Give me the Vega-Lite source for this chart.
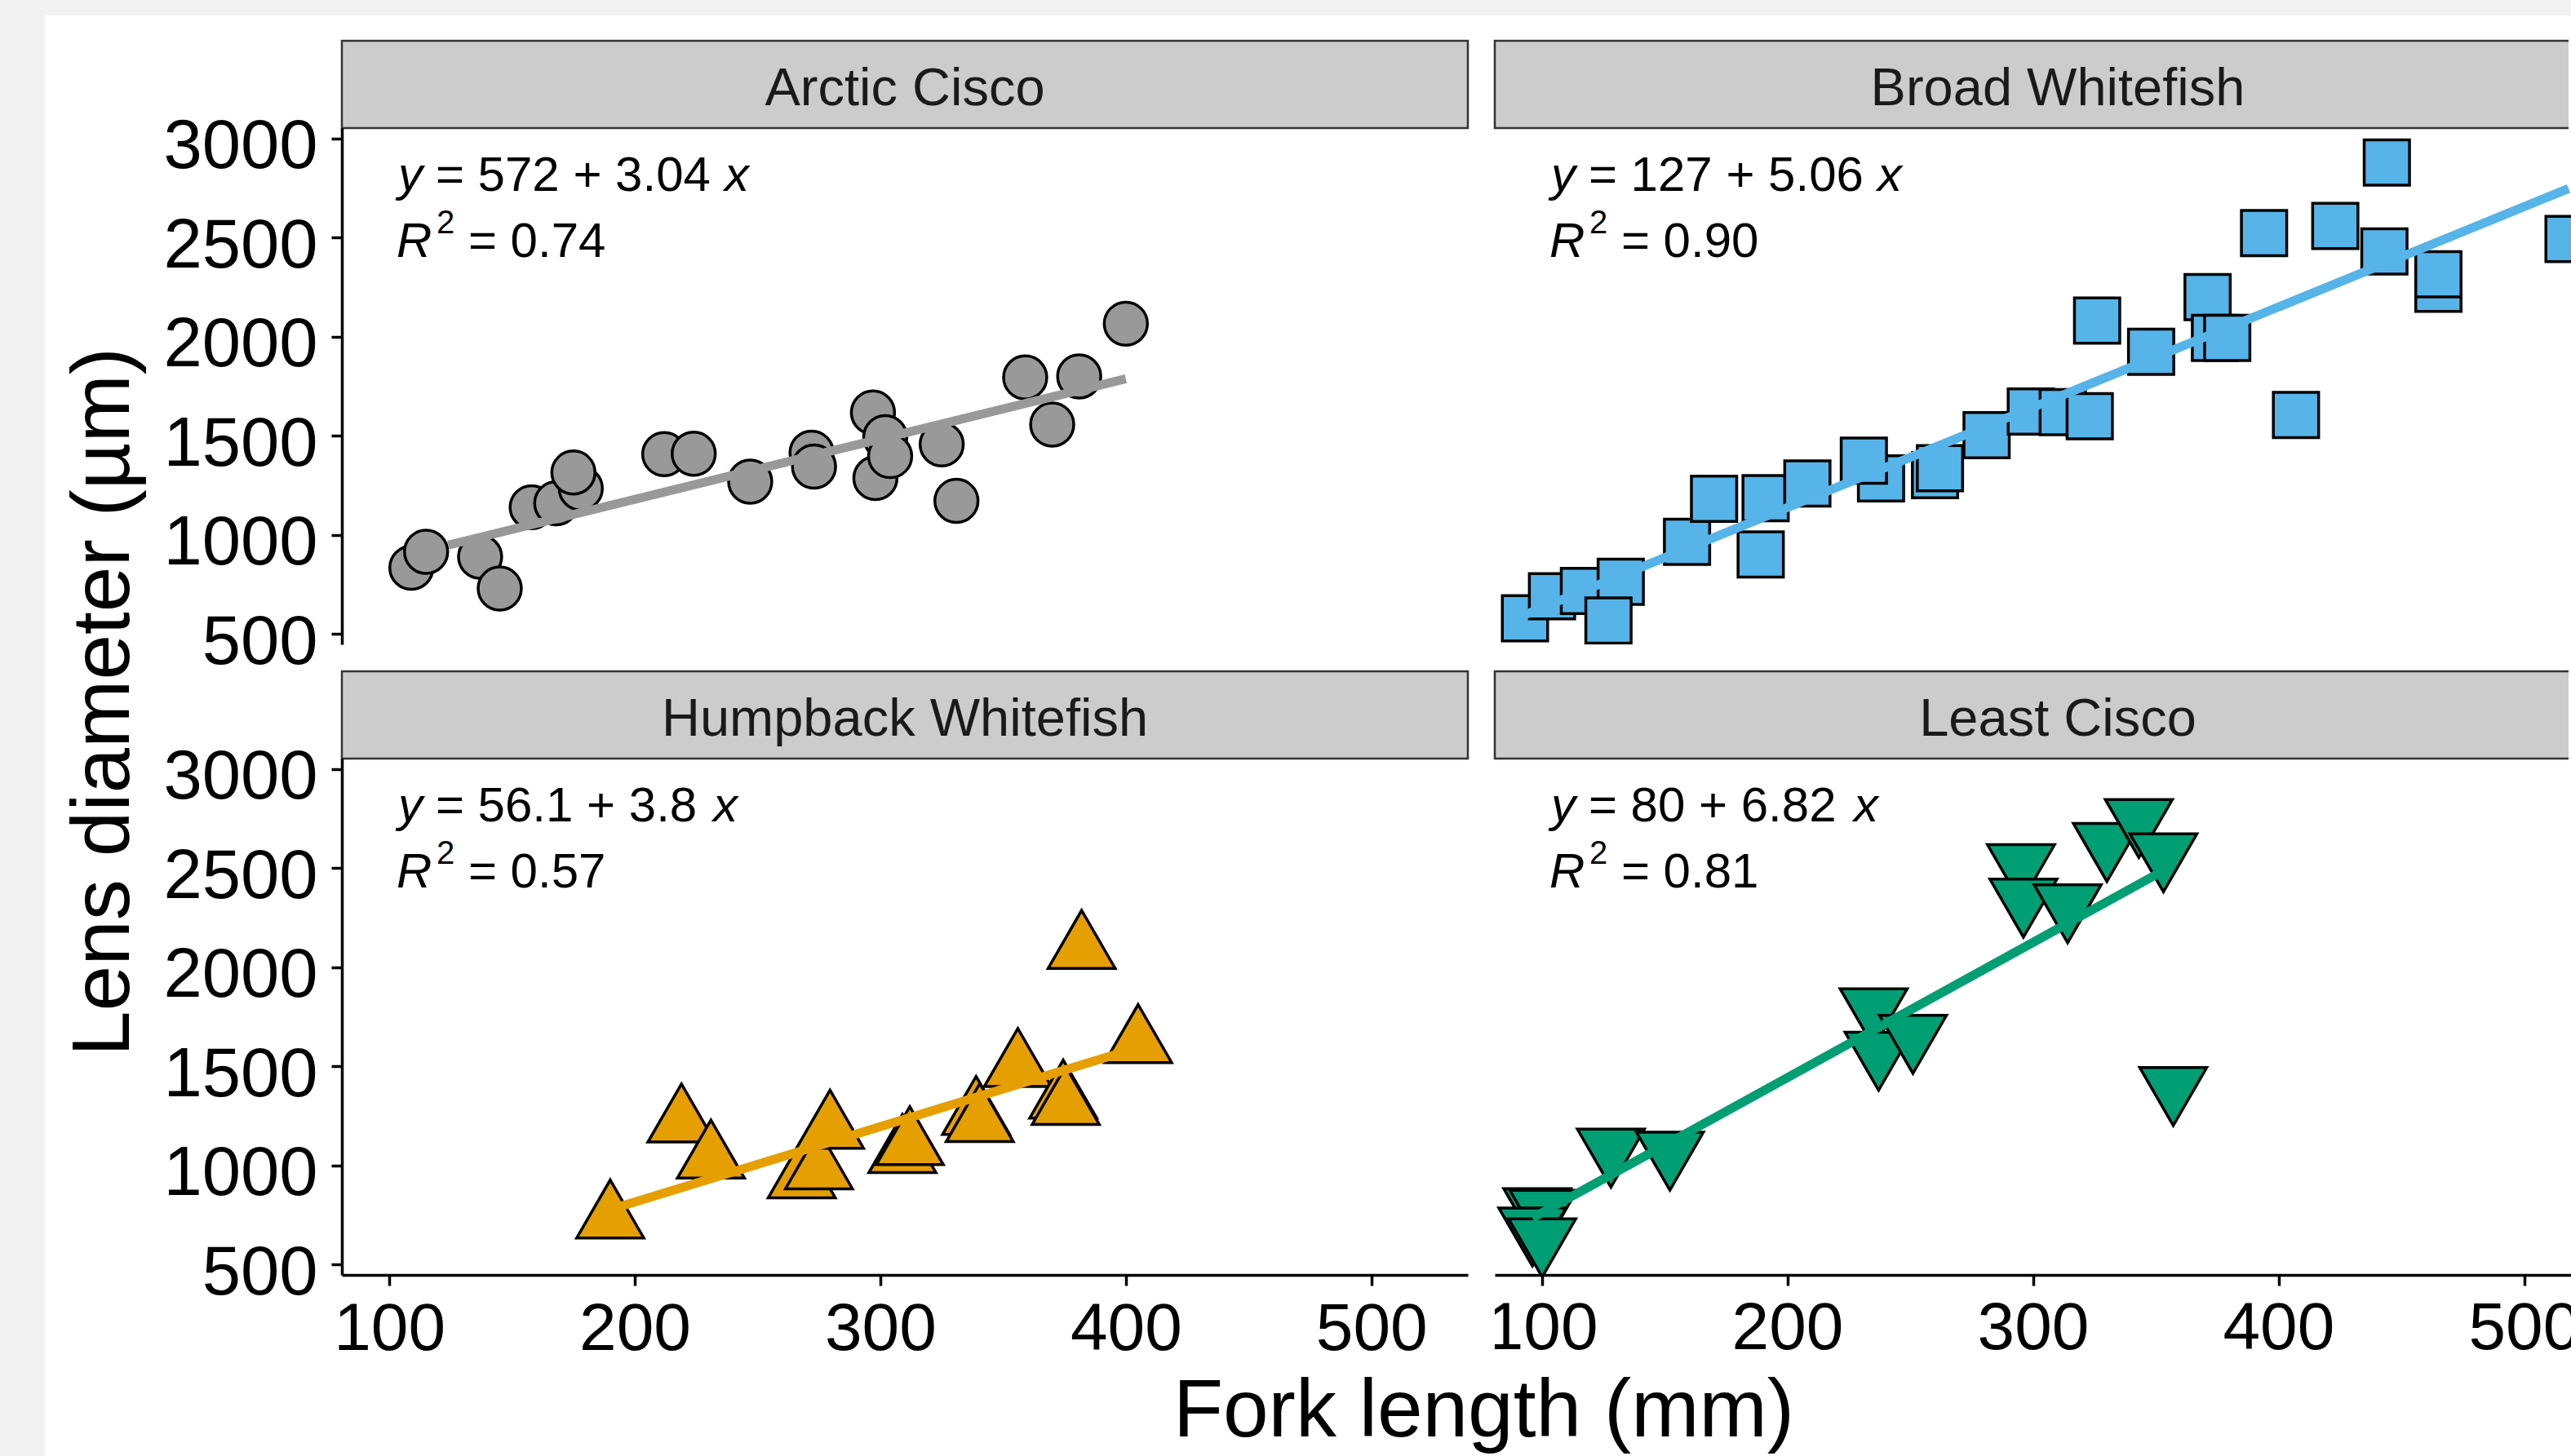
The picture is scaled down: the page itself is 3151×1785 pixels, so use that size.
{
"$schema":"https://vega.github.io/schema/vega-lite/v6.json",
"background":"white",
"padding":0,
"autosize":{"type":"pad"},
"columns":5,
"spacing":0,
"bounds":"flush",
"align":"each",
"config":{"view":{"stroke":null},"font":"Liberation Sans","text":{"font":"Liberation Sans"},
"axis":{"labelFont":"Liberation Sans","titleFont":"Liberation Sans","grid":false,"labelColor":"black","titleColor":"black","domainColor":"black","tickColor":"black","domainWidth":3.5,"tickWidth":3.5,"tickSize":13,"labelFontSize":82,"labelLimit":1000,"titleLimit":3000,"titleFontSize":100,"titleFontWeight":"normal"},
"axisY":{"labelFontSize":85},
"axisX":{"labelFontSize":82}},
"datasets":{
"pts":[
{"species":"Arctic Cisco","fl":109,"ld":835},{"species":"Arctic Cisco","fl":115,"ld":915},{"species":"Arctic Cisco","fl":137,"ld":890},{"species":"Arctic Cisco","fl":145,"ld":730},{"species":"Arctic Cisco","fl":158,"ld":1140},{"species":"Arctic Cisco","fl":168,"ld":1160},{"species":"Arctic Cisco","fl":178,"ld":1235},{"species":"Arctic Cisco","fl":175,"ld":1315},{"species":"Arctic Cisco","fl":212,"ld":1408},{"species":"Arctic Cisco","fl":224,"ld":1410},{"species":"Arctic Cisco","fl":247,"ld":1269},{"species":"Arctic Cisco","fl":272,"ld":1415},{"species":"Arctic Cisco","fl":273,"ld":1345},{"species":"Arctic Cisco","fl":297,"ld":1618},{"species":"Arctic Cisco","fl":298,"ld":1287},{"species":"Arctic Cisco","fl":302,"ld":1493},{"species":"Arctic Cisco","fl":304,"ld":1398},{"species":"Arctic Cisco","fl":325,"ld":1457},{"species":"Arctic Cisco","fl":331,"ld":1172},{"species":"Arctic Cisco","fl":359,"ld":1795},{"species":"Arctic Cisco","fl":381,"ld":1800},{"species":"Arctic Cisco","fl":370,"ld":1557},{"species":"Arctic Cisco","fl":400,"ld":2066},
{"species":"Broad Whitefish","fl":93,"ld":580},{"species":"Broad Whitefish","fl":104,"ld":691},{"species":"Broad Whitefish","fl":117,"ld":718},{"species":"Broad Whitefish","fl":132,"ld":764},{"species":"Broad Whitefish","fl":127,"ld":568},{"species":"Broad Whitefish","fl":159,"ld":966},{"species":"Broad Whitefish","fl":170,"ld":1183},{"species":"Broad Whitefish","fl":191,"ld":1186},{"species":"Broad Whitefish","fl":189,"ld":902},{"species":"Broad Whitefish","fl":208,"ld":1260},{"species":"Broad Whitefish","fl":238,"ld":1285},{"species":"Broad Whitefish","fl":231,"ld":1375},{"species":"Broad Whitefish","fl":260,"ld":1302},{"species":"Broad Whitefish","fl":262,"ld":1337},{"species":"Broad Whitefish","fl":281,"ld":1504},{"species":"Broad Whitefish","fl":299,"ld":1623},{"species":"Broad Whitefish","fl":312,"ld":1620},{"species":"Broad Whitefish","fl":323,"ld":1599},{"species":"Broad Whitefish","fl":326,"ld":2082},{"species":"Broad Whitefish","fl":348,"ld":1924},{"species":"Broad Whitefish","fl":371,"ld":2200},{"species":"Broad Whitefish","fl":374,"ld":1994},{"species":"Broad Whitefish","fl":379,"ld":1994},{"species":"Broad Whitefish","fl":394,"ld":2523},{"species":"Broad Whitefish","fl":407,"ld":1605},{"species":"Broad Whitefish","fl":423,"ld":2559},{"species":"Broad Whitefish","fl":444,"ld":2879},{"species":"Broad Whitefish","fl":443,"ld":2431},{"species":"Broad Whitefish","fl":465,"ld":2242},{"species":"Broad Whitefish","fl":465,"ld":2315},{"species":"Broad Whitefish","fl":518,"ld":2493},
{"species":"Humpback Whitefish","fl":190,"ld":732},{"species":"Humpback Whitefish","fl":219,"ld":1216},{"species":"Humpback Whitefish","fl":231,"ld":1034},{"species":"Humpback Whitefish","fl":268,"ld":935},{"species":"Humpback Whitefish","fl":275,"ld":980},{"species":"Humpback Whitefish","fl":279.5,"ld":1185},{"species":"Humpback Whitefish","fl":309,"ld":1062},{"species":"Humpback Whitefish","fl":312,"ld":1102},{"species":"Humpback Whitefish","fl":339,"ld":1254},{"species":"Humpback Whitefish","fl":340.5,"ld":1218},{"species":"Humpback Whitefish","fl":356,"ld":1496},{"species":"Humpback Whitefish","fl":374.5,"ld":1337},{"species":"Humpback Whitefish","fl":375.5,"ld":1305},{"species":"Humpback Whitefish","fl":382,"ld":2092},{"species":"Humpback Whitefish","fl":405,"ld":1617},
{"species":"Least Cisco","fl":98,"ld":786},{"species":"Least Cisco","fl":100.5,"ld":777},{"species":"Least Cisco","fl":96,"ld":688},{"species":"Least Cisco","fl":100,"ld":633},{"species":"Least Cisco","fl":128,"ld":1086},{"species":"Least Cisco","fl":152,"ld":1071},{"species":"Least Cisco","fl":235,"ld":1794},{"species":"Least Cisco","fl":237,"ld":1575},{"species":"Least Cisco","fl":251,"ld":1660},{"species":"Least Cisco","fl":295,"ld":2521},{"species":"Least Cisco","fl":296,"ld":2347},{"species":"Least Cisco","fl":314,"ld":2319},{"species":"Least Cisco","fl":330,"ld":2628},{"species":"Least Cisco","fl":343,"ld":2749},{"species":"Least Cisco","fl":353,"ld":2576},{"species":"Least Cisco","fl":357,"ld":1397}
],
"lines":[
{"species":"Arctic Cisco","fl":124,"ld":949},{"species":"Arctic Cisco","fl":400,"ld":1788},
{"species":"Broad Whitefish","fl":93,"ld":598},{"species":"Broad Whitefish","fl":518,"ld":2748},
{"species":"Humpback Whitefish","fl":190,"ld":778},{"species":"Humpback Whitefish","fl":405,"ld":1595},
{"species":"Least Cisco","fl":96,"ld":735},{"species":"Least Cisco","fl":352,"ld":2481}
],
"eq":[
{"species":"Arctic Cisco","mid":"= 572 + 3.04","r2":"= 0.74"},
{"species":"Broad Whitefish","mid":"= 127 + 5.06","r2":"= 0.90"},
{"species":"Humpback Whitefish","mid":"= 56.1 + 3.8","r2":"= 0.57"},
{"species":"Least Cisco","mid":"= 80 + 6.82","r2":"= 0.81"}
]
},
"concat":[
{"width":55,"height":19,"view":{"fill":"#f2f2f2","stroke":null},"data":{"values":[]},"mark":"text"},
{"width":364,"height":19,"view":{"fill":"#f2f2f2","stroke":null},"data":{"values":[]},"mark":"text"},
{"width":1380,"height":19,"view":{"fill":"#f2f2f2","stroke":null},"data":{"values":[]},"mark":"text"},
{"width":33,"height":19,"view":{"fill":"#f2f2f2","stroke":null},"data":{"values":[]},"mark":"text"},
{"width":1319,"height":19,"view":{"fill":"#f2f2f2","stroke":null},"data":{"values":[]},"mark":"text"},

{"width":55,"height":31,"view":{"fill":"#f2f2f2","stroke":null},"data":{"values":[]},"mark":"text"},
{"width":1,"height":1,"data":{"values":[]},"mark":"text"},
{"width":1,"height":1,"data":{"values":[]},"mark":"text"},
{"width":1,"height":1,"data":{"values":[]},"mark":"text"},
{"width":1,"height":1,"data":{"values":[]},"mark":"text"},

{"width":55,"height":107,"view":{"fill":"#f2f2f2","stroke":null},"data":{"values":[]},"mark":"text"},
{"width":1,"height":1,"data":{"values":[]},"mark":"text"},
{"width":1380,"height":107,"view":{"fill":"#cccccc","stroke":"#333333","strokeWidth":2.5},"data":{"values":[{"label":"Arctic Cisco"}]},"mark":{"type":"text","fontSize":65,"color":"#1a1a1a","baseline":"middle","align":"center","dy":5},"encoding":{"text":{"field":"label","type":"nominal"}}},
{"width":1,"height":1,"data":{"values":[]},"mark":"text"},
{"width":1316,"height":107,"view":{"fill":"#cccccc","stroke":"#333333","strokeWidth":2.5,"strokeDash":[1316,107,1423]},"data":{"values":[{"label":"Broad Whitefish"}]},"mark":{"type":"text","fontSize":65,"color":"#1a1a1a","baseline":"middle","align":"center","dx":32,"dy":5},"encoding":{"text":{"field":"label","type":"nominal"}}},

{"width":55,"height":633,"view":{"fill":"#f2f2f2","stroke":null},"data":{"values":[]},"mark":"text"},
{"width":1,"height":1,"data":{"values":[]},"mark":"text"},
{"width":1380,"height":633,
 "layer":[
  {"data":{"name":"pts"},"transform":[{"filter":"datum.species === 'Arctic Cisco'"}],"mark":{"type":"point","shape":"circle","size":2800,"filled":true,"fill":"#999999","stroke":"black","strokeWidth":3.5,"opacity":1},
   "encoding":{"x":{"field":"fl","type":"quantitative","scale":{"domain":[80.7,539.3],"nice":false,"zero":false},"axis":null},
               "y":{"field":"ld","type":"quantitative","scale":{"domain":[448,3053],"nice":false,"zero":false},"axis":{"values":[500,1000,1500,2000,2500,3000],"format":"d","labelBaseline":"alphabetic","labelOffset":36,"labelPadding":17,"title":"Lens diameter (µm)","titleAngle":270,"titleX":-262,"titleY":703,"titleBaseline":"alphabetic","titleAlign":"center","titleFontSize":100}}}},
  {"data":{"name":"lines"},"transform":[{"filter":"datum.species === 'Arctic Cisco'"}],"mark":{"type":"line","color":"#999999","strokeWidth":11},
   "encoding":{"x":{"field":"fl","type":"quantitative","scale":{"domain":[80.7,539.3],"nice":false,"zero":false},"axis":null},
               "y":{"field":"ld","type":"quantitative","scale":{"domain":[448,3053],"nice":false,"zero":false},"axis":{"values":[500,1000,1500,2000,2500,3000],"format":"d","labelBaseline":"alphabetic","labelOffset":36,"labelPadding":17,"title":"Lens diameter (µm)","titleAngle":270,"titleX":-262,"titleY":703,"titleBaseline":"alphabetic","titleAlign":"center","titleFontSize":100}}}},
  {"data":{"name":"eq"},"transform":[{"filter":"datum.species === 'Arctic Cisco'"}],"mark":{"type":"text","text":"y","fontStyle":"italic","fontSize":60,"align":"left","baseline":"alphabetic","color":"black"},
   "encoding":{"x":{"datum":103.6,"type":"quantitative","axis":null},"y":{"datum":2736,"type":"quantitative","axis":{"values":[500,1000,1500,2000,2500,3000],"format":"d","labelBaseline":"alphabetic","labelOffset":36,"labelPadding":17,"title":"Lens diameter (µm)","titleAngle":270,"titleX":-262,"titleY":703,"titleBaseline":"alphabetic","titleAlign":"center","titleFontSize":100}}}},
  {"data":{"name":"eq"},"transform":[{"filter":"datum.species === 'Arctic Cisco'"}],"mark":{"type":"text","fontSize":60,"align":"left","baseline":"alphabetic","color":"black","dx":46},
   "encoding":{"text":{"field":"mid","type":"nominal"},"x":{"datum":103.6,"type":"quantitative","axis":null},"y":{"datum":2736,"type":"quantitative","axis":{"values":[500,1000,1500,2000,2500,3000],"format":"d","labelBaseline":"alphabetic","labelOffset":36,"labelPadding":17,"title":"Lens diameter (µm)","titleAngle":270,"titleX":-262,"titleY":703,"titleBaseline":"alphabetic","titleAlign":"center","titleFontSize":100}}}},
  {"data":{"name":"eq"},"transform":[{"filter":"datum.species === 'Arctic Cisco'"}],"mark":{"type":"text","text":"x","fontStyle":"italic","fontSize":60,"align":"left","baseline":"alphabetic","color":"black","dx":400},
   "encoding":{"x":{"datum":103.6,"type":"quantitative","axis":null},"y":{"datum":2736,"type":"quantitative","axis":{"values":[500,1000,1500,2000,2500,3000],"format":"d","labelBaseline":"alphabetic","labelOffset":36,"labelPadding":17,"title":"Lens diameter (µm)","titleAngle":270,"titleX":-262,"titleY":703,"titleBaseline":"alphabetic","titleAlign":"center","titleFontSize":100}}}},
  {"data":{"name":"eq"},"transform":[{"filter":"datum.species === 'Arctic Cisco'"}],"mark":{"type":"text","text":"R","fontStyle":"italic","fontSize":60,"align":"left","baseline":"alphabetic","color":"black","dx":-2,"dy":81},
   "encoding":{"x":{"datum":103.6,"type":"quantitative","axis":null},"y":{"datum":2736,"type":"quantitative","axis":{"values":[500,1000,1500,2000,2500,3000],"format":"d","labelBaseline":"alphabetic","labelOffset":36,"labelPadding":17,"title":"Lens diameter (µm)","titleAngle":270,"titleX":-262,"titleY":703,"titleBaseline":"alphabetic","titleAlign":"center","titleFontSize":100}}}},
  {"data":{"name":"eq"},"transform":[{"filter":"datum.species === 'Arctic Cisco'"}],"mark":{"type":"text","text":"2","fontSize":40,"align":"left","baseline":"alphabetic","color":"black","dx":47,"dy":51.5},
   "encoding":{"x":{"datum":103.6,"type":"quantitative","axis":null},"y":{"datum":2736,"type":"quantitative","axis":{"values":[500,1000,1500,2000,2500,3000],"format":"d","labelBaseline":"alphabetic","labelOffset":36,"labelPadding":17,"title":"Lens diameter (µm)","titleAngle":270,"titleX":-262,"titleY":703,"titleBaseline":"alphabetic","titleAlign":"center","titleFontSize":100}}}},
  {"data":{"name":"eq"},"transform":[{"filter":"datum.species === 'Arctic Cisco'"}],"mark":{"type":"text","fontSize":60,"align":"left","baseline":"alphabetic","color":"black","dx":86,"dy":81},
   "encoding":{"text":{"field":"r2","type":"nominal"},"x":{"datum":103.6,"type":"quantitative","axis":null},"y":{"datum":2736,"type":"quantitative","axis":{"values":[500,1000,1500,2000,2500,3000],"format":"d","labelBaseline":"alphabetic","labelOffset":36,"labelPadding":17,"title":"Lens diameter (µm)","titleAngle":270,"titleX":-262,"titleY":703,"titleBaseline":"alphabetic","titleAlign":"center","titleFontSize":100}}}}
 ]},
{"width":1,"height":1,"data":{"values":[]},"mark":"text"},
{"width":1319,"height":633,
 "layer":[
  {"data":{"name":"pts"},"transform":[{"filter":"datum.species === 'Broad Whitefish'"}],"mark":{"type":"point","shape":"square","size":3080,"filled":true,"fill":"#56B4E9","stroke":"black","strokeWidth":3.5,"opacity":1,"clip":true},
   "encoding":{"x":{"field":"fl","type":"quantitative","scale":{"domain":[80.7,519],"nice":false,"zero":false},"axis":null},"y":{"field":"ld","type":"quantitative","scale":{"domain":[448,3053],"nice":false,"zero":false},"axis":null}}},
  {"data":{"name":"lines"},"transform":[{"filter":"datum.species === 'Broad Whitefish'"}],"mark":{"type":"line","color":"#56B4E9","strokeWidth":11,"clip":true},
   "encoding":{"x":{"field":"fl","type":"quantitative","scale":{"domain":[80.7,519],"nice":false,"zero":false},"axis":null},"y":{"field":"ld","type":"quantitative","scale":{"domain":[448,3053],"nice":false,"zero":false},"axis":null}}},
  {"data":{"name":"eq"},"transform":[{"filter":"datum.species === 'Broad Whitefish'"}],"mark":{"type":"text","text":"y","fontStyle":"italic","fontSize":60,"align":"left","baseline":"alphabetic","color":"black"},
   "encoding":{"x":{"datum":103.6,"type":"quantitative","axis":null},"y":{"datum":2736,"type":"quantitative","axis":null}}},
  {"data":{"name":"eq"},"transform":[{"filter":"datum.species === 'Broad Whitefish'"}],"mark":{"type":"text","fontSize":60,"align":"left","baseline":"alphabetic","color":"black","dx":46},
   "encoding":{"text":{"field":"mid","type":"nominal"},"x":{"datum":103.6,"type":"quantitative","axis":null},"y":{"datum":2736,"type":"quantitative","axis":null}}},
  {"data":{"name":"eq"},"transform":[{"filter":"datum.species === 'Broad Whitefish'"}],"mark":{"type":"text","text":"x","fontStyle":"italic","fontSize":60,"align":"left","baseline":"alphabetic","color":"black","dx":400},
   "encoding":{"x":{"datum":103.6,"type":"quantitative","axis":null},"y":{"datum":2736,"type":"quantitative","axis":null}}},
  {"data":{"name":"eq"},"transform":[{"filter":"datum.species === 'Broad Whitefish'"}],"mark":{"type":"text","text":"R","fontStyle":"italic","fontSize":60,"align":"left","baseline":"alphabetic","color":"black","dx":-2,"dy":81},
   "encoding":{"x":{"datum":103.6,"type":"quantitative","axis":null},"y":{"datum":2736,"type":"quantitative","axis":null}}},
  {"data":{"name":"eq"},"transform":[{"filter":"datum.species === 'Broad Whitefish'"}],"mark":{"type":"text","text":"2","fontSize":40,"align":"left","baseline":"alphabetic","color":"black","dx":47,"dy":51.5},
   "encoding":{"x":{"datum":103.6,"type":"quantitative","axis":null},"y":{"datum":2736,"type":"quantitative","axis":null}}},
  {"data":{"name":"eq"},"transform":[{"filter":"datum.species === 'Broad Whitefish'"}],"mark":{"type":"text","fontSize":60,"align":"left","baseline":"alphabetic","color":"black","dx":86,"dy":81},
   "encoding":{"text":{"field":"r2","type":"nominal"},"x":{"datum":103.6,"type":"quantitative","axis":null},"y":{"datum":2736,"type":"quantitative","axis":null}}}
 ]},

{"width":55,"height":33,"view":{"fill":"#f2f2f2","stroke":null},"data":{"values":[]},"mark":"text"},
{"width":1,"height":1,"data":{"values":[]},"mark":"text"},
{"width":1,"height":1,"data":{"values":[]},"mark":"text"},
{"width":1,"height":1,"data":{"values":[]},"mark":"text"},
{"width":1,"height":1,"data":{"values":[]},"mark":"text"},

{"width":55,"height":107,"view":{"fill":"#f2f2f2","stroke":null},"data":{"values":[]},"mark":"text"},
{"width":1,"height":1,"data":{"values":[]},"mark":"text"},
{"width":1380,"height":107,"view":{"fill":"#cccccc","stroke":"#333333","strokeWidth":2.5},"data":{"values":[{"label":"Humpback Whitefish"}]},"mark":{"type":"text","fontSize":65,"color":"#1a1a1a","baseline":"middle","align":"center","dy":5},"encoding":{"text":{"field":"label","type":"nominal"}}},
{"width":1,"height":1,"data":{"values":[]},"mark":"text"},
{"width":1316,"height":107,"view":{"fill":"#cccccc","stroke":"#333333","strokeWidth":2.5,"strokeDash":[1316,107,1423]},"data":{"values":[{"label":"Least Cisco"}]},"mark":{"type":"text","fontSize":65,"color":"#1a1a1a","baseline":"middle","align":"center","dx":32,"dy":5},"encoding":{"text":{"field":"label","type":"nominal"}}},

{"width":55,"height":633,"view":{"fill":"#f2f2f2","stroke":null},"data":{"values":[]},"mark":"text"},
{"width":1,"height":1,"data":{"values":[]},"mark":"text"},
{"width":1380,"height":633,
 "layer":[
  {"data":{"name":"pts"},"transform":[{"filter":"datum.species === 'Humpback Whitefish'"}],"mark":{"type":"point","shape":"M0,-1L0.866,0.5L-0.866,0.5Z","size":9000,"filled":true,"fill":"#E69F00","stroke":"black","strokeWidth":3.5,"opacity":1},
   "encoding":{"x":{"field":"fl","type":"quantitative","scale":{"domain":[80.7,539.3],"nice":false,"zero":false},"axis":{"values":[100,200,300,400,500],"format":"d","labelBaseline":"alphabetic","labelPadding":78,"labelOverlap":false,"labelFlush":false,"title":"Fork length (mm)","titleX":1399,"titleY":197,"titleBaseline":"alphabetic","titleAlign":"center","titleFontSize":100}},
               "y":{"field":"ld","type":"quantitative","scale":{"domain":[448,3053],"nice":false,"zero":false},"axis":{"values":[500,1000,1500,2000,2500,3000],"format":"d","labelBaseline":"alphabetic","labelOffset":36,"labelPadding":17,"title":null}}}},
  {"data":{"name":"lines"},"transform":[{"filter":"datum.species === 'Humpback Whitefish'"}],"mark":{"type":"line","color":"#E69F00","strokeWidth":11},
   "encoding":{"x":{"field":"fl","type":"quantitative","scale":{"domain":[80.7,539.3],"nice":false,"zero":false},"axis":{"values":[100,200,300,400,500],"format":"d","labelBaseline":"alphabetic","labelPadding":78,"labelOverlap":false,"labelFlush":false,"title":"Fork length (mm)","titleX":1399,"titleY":197,"titleBaseline":"alphabetic","titleAlign":"center","titleFontSize":100}},
               "y":{"field":"ld","type":"quantitative","scale":{"domain":[448,3053],"nice":false,"zero":false},"axis":{"values":[500,1000,1500,2000,2500,3000],"format":"d","labelBaseline":"alphabetic","labelOffset":36,"labelPadding":17,"title":null}}}},
  {"data":{"name":"eq"},"transform":[{"filter":"datum.species === 'Humpback Whitefish'"}],"mark":{"type":"text","text":"y","fontStyle":"italic","fontSize":60,"align":"left","baseline":"alphabetic","color":"black"},
   "encoding":{"x":{"datum":103.6,"type":"quantitative","axis":{"values":[100,200,300,400,500],"format":"d","labelBaseline":"alphabetic","labelPadding":78,"labelOverlap":false,"labelFlush":false,"title":"Fork length (mm)","titleX":1399,"titleY":197,"titleBaseline":"alphabetic","titleAlign":"center","titleFontSize":100}},"y":{"datum":2736,"type":"quantitative","axis":{"values":[500,1000,1500,2000,2500,3000],"format":"d","labelBaseline":"alphabetic","labelOffset":36,"labelPadding":17,"title":null}}}},
  {"data":{"name":"eq"},"transform":[{"filter":"datum.species === 'Humpback Whitefish'"}],"mark":{"type":"text","fontSize":60,"align":"left","baseline":"alphabetic","color":"black","dx":46},
   "encoding":{"text":{"field":"mid","type":"nominal"},"x":{"datum":103.6,"type":"quantitative","axis":{"values":[100,200,300,400,500],"format":"d","labelBaseline":"alphabetic","labelPadding":78,"labelOverlap":false,"labelFlush":false,"title":"Fork length (mm)","titleX":1399,"titleY":197,"titleBaseline":"alphabetic","titleAlign":"center","titleFontSize":100}},"y":{"datum":2736,"type":"quantitative","axis":{"values":[500,1000,1500,2000,2500,3000],"format":"d","labelBaseline":"alphabetic","labelOffset":36,"labelPadding":17,"title":null}}}},
  {"data":{"name":"eq"},"transform":[{"filter":"datum.species === 'Humpback Whitefish'"}],"mark":{"type":"text","text":"x","fontStyle":"italic","fontSize":60,"align":"left","baseline":"alphabetic","color":"black","dx":386},
   "encoding":{"x":{"datum":103.6,"type":"quantitative","axis":{"values":[100,200,300,400,500],"format":"d","labelBaseline":"alphabetic","labelPadding":78,"labelOverlap":false,"labelFlush":false,"title":"Fork length (mm)","titleX":1399,"titleY":197,"titleBaseline":"alphabetic","titleAlign":"center","titleFontSize":100}},"y":{"datum":2736,"type":"quantitative","axis":{"values":[500,1000,1500,2000,2500,3000],"format":"d","labelBaseline":"alphabetic","labelOffset":36,"labelPadding":17,"title":null}}}},
  {"data":{"name":"eq"},"transform":[{"filter":"datum.species === 'Humpback Whitefish'"}],"mark":{"type":"text","text":"R","fontStyle":"italic","fontSize":60,"align":"left","baseline":"alphabetic","color":"black","dx":-2,"dy":81},
   "encoding":{"x":{"datum":103.6,"type":"quantitative","axis":{"values":[100,200,300,400,500],"format":"d","labelBaseline":"alphabetic","labelPadding":78,"labelOverlap":false,"labelFlush":false,"title":"Fork length (mm)","titleX":1399,"titleY":197,"titleBaseline":"alphabetic","titleAlign":"center","titleFontSize":100}},"y":{"datum":2736,"type":"quantitative","axis":{"values":[500,1000,1500,2000,2500,3000],"format":"d","labelBaseline":"alphabetic","labelOffset":36,"labelPadding":17,"title":null}}}},
  {"data":{"name":"eq"},"transform":[{"filter":"datum.species === 'Humpback Whitefish'"}],"mark":{"type":"text","text":"2","fontSize":40,"align":"left","baseline":"alphabetic","color":"black","dx":47,"dy":51.5},
   "encoding":{"x":{"datum":103.6,"type":"quantitative","axis":{"values":[100,200,300,400,500],"format":"d","labelBaseline":"alphabetic","labelPadding":78,"labelOverlap":false,"labelFlush":false,"title":"Fork length (mm)","titleX":1399,"titleY":197,"titleBaseline":"alphabetic","titleAlign":"center","titleFontSize":100}},"y":{"datum":2736,"type":"quantitative","axis":{"values":[500,1000,1500,2000,2500,3000],"format":"d","labelBaseline":"alphabetic","labelOffset":36,"labelPadding":17,"title":null}}}},
  {"data":{"name":"eq"},"transform":[{"filter":"datum.species === 'Humpback Whitefish'"}],"mark":{"type":"text","fontSize":60,"align":"left","baseline":"alphabetic","color":"black","dx":86,"dy":81},
   "encoding":{"text":{"field":"r2","type":"nominal"},"x":{"datum":103.6,"type":"quantitative","axis":{"values":[100,200,300,400,500],"format":"d","labelBaseline":"alphabetic","labelPadding":78,"labelOverlap":false,"labelFlush":false,"title":"Fork length (mm)","titleX":1399,"titleY":197,"titleBaseline":"alphabetic","titleAlign":"center","titleFontSize":100}},"y":{"datum":2736,"type":"quantitative","axis":{"values":[500,1000,1500,2000,2500,3000],"format":"d","labelBaseline":"alphabetic","labelOffset":36,"labelPadding":17,"title":null}}}}
 ]},
{"width":1,"height":1,"data":{"values":[]},"mark":"text"},
{"width":1319,"height":633,
 "layer":[
  {"data":{"name":"pts"},"transform":[{"filter":"datum.species === 'Least Cisco'"}],"mark":{"type":"point","shape":"M0,1L0.866,-0.5L-0.866,-0.5Z","size":9000,"filled":true,"fill":"#009E73","stroke":"black","strokeWidth":3.5,"opacity":1,"clip":true},
   "encoding":{"x":{"field":"fl","type":"quantitative","scale":{"domain":[80.7,519],"nice":false,"zero":false},"axis":{"values":[100,200,300,400,500],"labels":false,"title":null}},"y":{"field":"ld","type":"quantitative","scale":{"domain":[448,3053],"nice":false,"zero":false},"axis":null}}},
  {"data":{"name":"lines"},"transform":[{"filter":"datum.species === 'Least Cisco'"}],"mark":{"type":"line","color":"#009E73","strokeWidth":11,"clip":true},
   "encoding":{"x":{"field":"fl","type":"quantitative","scale":{"domain":[80.7,519],"nice":false,"zero":false},"axis":{"values":[100,200,300,400,500],"labels":false,"title":null}},"y":{"field":"ld","type":"quantitative","scale":{"domain":[448,3053],"nice":false,"zero":false},"axis":null}}},
  {"data":{"name":"eq"},"transform":[{"filter":"datum.species === 'Least Cisco'"}],"mark":{"type":"text","text":"y","fontStyle":"italic","fontSize":60,"align":"left","baseline":"alphabetic","color":"black"},
   "encoding":{"x":{"datum":103.6,"type":"quantitative","axis":{"values":[100,200,300,400,500],"labels":false,"title":null}},"y":{"datum":2736,"type":"quantitative","axis":null}}},
  {"data":{"name":"eq"},"transform":[{"filter":"datum.species === 'Least Cisco'"}],"mark":{"type":"text","fontSize":60,"align":"left","baseline":"alphabetic","color":"black","dx":46},
   "encoding":{"text":{"field":"mid","type":"nominal"},"x":{"datum":103.6,"type":"quantitative","axis":{"values":[100,200,300,400,500],"labels":false,"title":null}},"y":{"datum":2736,"type":"quantitative","axis":null}}},
  {"data":{"name":"eq"},"transform":[{"filter":"datum.species === 'Least Cisco'"}],"mark":{"type":"text","text":"x","fontStyle":"italic","fontSize":60,"align":"left","baseline":"alphabetic","color":"black","dx":371},
   "encoding":{"x":{"datum":103.6,"type":"quantitative","axis":{"values":[100,200,300,400,500],"labels":false,"title":null}},"y":{"datum":2736,"type":"quantitative","axis":null}}},
  {"data":{"name":"eq"},"transform":[{"filter":"datum.species === 'Least Cisco'"}],"mark":{"type":"text","text":"R","fontStyle":"italic","fontSize":60,"align":"left","baseline":"alphabetic","color":"black","dx":-2,"dy":81},
   "encoding":{"x":{"datum":103.6,"type":"quantitative","axis":{"values":[100,200,300,400,500],"labels":false,"title":null}},"y":{"datum":2736,"type":"quantitative","axis":null}}},
  {"data":{"name":"eq"},"transform":[{"filter":"datum.species === 'Least Cisco'"}],"mark":{"type":"text","text":"2","fontSize":40,"align":"left","baseline":"alphabetic","color":"black","dx":47,"dy":51.5},
   "encoding":{"x":{"datum":103.6,"type":"quantitative","axis":{"values":[100,200,300,400,500],"labels":false,"title":null}},"y":{"datum":2736,"type":"quantitative","axis":null}}},
  {"data":{"name":"eq"},"transform":[{"filter":"datum.species === 'Least Cisco'"}],"mark":{"type":"text","fontSize":60,"align":"left","baseline":"alphabetic","color":"black","dx":86,"dy":81},
   "encoding":{"text":{"field":"r2","type":"nominal"},"x":{"datum":103.6,"type":"quantitative","axis":{"values":[100,200,300,400,500],"labels":false,"title":null}},"y":{"datum":2736,"type":"quantitative","axis":null}}}
 ]},

{"width":55,"height":222,"view":{"fill":"#f2f2f2","stroke":null},"data":{"values":[]},"mark":"text"},
{"width":1,"height":1,"data":{"values":[]},"mark":"text"},
{"width":1,"height":1,"data":{"values":[]},"mark":"text"},
{"width":1,"height":1,"data":{"values":[]},"mark":"text"},
{"width":1319,"height":222,"data":{"values":[{"v":100},{"v":200},{"v":300},{"v":400},{"v":500}]},
 "mark":{"type":"text","clip":true,"fontSize":82,"baseline":"alphabetic","align":"center","dy":-20,"color":"black"},
 "encoding":{"x":{"field":"v","type":"quantitative","scale":{"domain":[80.7,519],"nice":false,"zero":false},"axis":null},"text":{"field":"v","type":"quantitative","format":"d"}}}
]
}
